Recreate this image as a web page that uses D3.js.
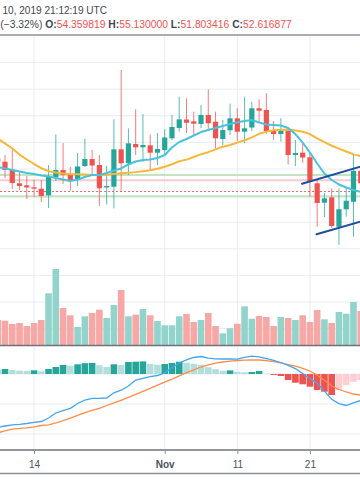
<!DOCTYPE html>
<html><head><meta charset="utf-8">
<script src="https://cdn.jsdelivr.net/npm/d3@7"></script>
<style>
html,body{margin:0;padding:0;background:#fff;}
svg{display:block;font-family:"Liberation Sans",Arial,sans-serif;}
</style>
</head><body>
<svg id="c" width="360" height="504"></svg>
<script>
// ---------- DATA ----------
const dates = ["2019-10-09","2019-10-10","2019-10-11","2019-10-12","2019-10-13","2019-10-14","2019-10-15","2019-10-16","2019-10-17","2019-10-18","2019-10-19","2019-10-20","2019-10-21","2019-10-22","2019-10-23","2019-10-24","2019-10-25","2019-10-26","2019-10-27","2019-10-28","2019-10-29","2019-10-30","2019-10-31",
"2019-11-01","2019-11-02","2019-11-03","2019-11-04","2019-11-05","2019-11-06","2019-11-07","2019-11-08","2019-11-09","2019-11-10","2019-11-11","2019-11-12","2019-11-13","2019-11-14","2019-11-15","2019-11-16","2019-11-17","2019-11-18","2019-11-19","2019-11-20","2019-11-21","2019-11-22","2019-11-23","2019-11-24","2019-11-25","2019-11-26","2019-11-27","2019-11-28"];
const opens  = [57.60,57.10,55.92,53.85,53.55,53.25,53.04,52.04,54.80,55.85,55.10,54.35,56.45,57.50,56.60,53.22,53.34,58.96,56.86,59.76,59.26,59.56,58.45,58.86,60.62,62.17,63.44,63.17,62.77,64.12,63.11,60.51,61.82,63.62,61.61,62.24,65.13,64.87,61.76,61.26,61.76,58.11,58.45,57.76,53.85,50.93,51.74,47.32,49.94,51.08,55.74];
const highs  = [58.40,58.11,58.86,55.55,54.95,54.35,54.35,56.60,61.19,59.91,56.30,58.41,60.59,58.86,58.11,56.45,63.47,70.89,62.12,64.98,64.27,61.19,61.41,62.01,64.12,66.87,66.63,64.62,65.62,67.98,64.62,63.37,65.82,65.13,66.87,66.12,66.48,67.38,63.22,63.62,62.12,60.36,59.86,58.36,54.35,52.35,53.10,53.10,53.25,58.11,56.60];
const lows   = [56.90,54.65,52.99,52.84,51.49,51.79,51.04,50.14,54.20,53.74,52.77,53.44,56.30,55.25,50.44,50.66,50.09,52.54,55.10,58.11,57.05,55.85,56.60,57.95,60.36,61.61,61.41,61.11,62.12,61.71,59.11,59.61,61.11,60.21,59.86,61.71,63.11,61.26,60.36,60.11,56.68,56.45,56.90,51.83,47.32,48.78,47.13,44.57,48.83,45.82,52.84];
const closes = [57.10,55.85,53.89,53.44,53.22,53.04,51.94,54.80,55.85,55.10,54.35,56.38,57.50,56.53,53.10,53.44,58.96,56.86,59.86,59.26,59.61,58.45,59.01,60.74,62.32,63.47,62.96,62.81,64.12,62.87,60.62,61.86,63.62,61.61,62.12,65.13,64.77,61.71,61.26,61.76,58.11,58.41,57.73,54.09,50.89,51.59,47.43,49.94,51.23,55.74,53.85];
const volumes = [25,24.3,21,22,19,22,25,51.7,76,37,29.7,18,28.7,32,35.3,27,40,55,28.7,30.3,36,29.7,24,19.7,19.7,28.7,31,23,25,32,19,11.7,16.7,21.3,38.7,26.3,29,28,19,28,27,25,29.7,23,35,25.7,22,33,31.3,43,34];
const maFast = [56.27,56.08,55.85,55.62,55.40,55.25,55.02,54.87,54.65,54.42,54.20,54.42,54.80,55.10,55.10,55.40,55.77,56.08,56.68,57.13,57.35,57.43,57.65,58.11,59.23,60.06,60.51,61.04,61.56,61.86,62.17,62.47,62.77,63.02,63.22,63.37,62.99,62.69,62.62,62.54,62.17,61.26,59.98,58.48,56.83,55.32,54.35,53.67,53.22,52.84,52.54];
const maSlow = [60.54,59.86,59.08,58.17,57.43,56.75,56.12,55.67,55.46,55.31,55.20,55.20,55.16,55.10,55.10,55.14,55.26,55.37,55.43,55.53,55.65,55.80,56.03,56.33,56.72,57.16,57.41,57.80,58.23,58.53,58.95,59.34,59.61,59.97,60.33,60.75,61.29,61.62,61.82,61.91,61.91,61.80,61.59,61.26,60.62,60.03,59.50,59.07,58.63,58.20,57.92];
const macdLine = [-1.777,-1.733,-1.693,-1.677,-1.650,-1.610,-1.583,-1.467,-1.300,-1.223,-1.143,-0.983,-0.867,-0.810,-0.810,-0.800,-0.627,-0.540,-0.400,-0.200,-0.143,-0.090,-0.050,0.040,0.207,0.367,0.473,0.550,0.583,0.527,0.503,0.500,0.500,0.493,0.553,0.593,0.570,0.513,0.453,0.383,0.290,0.180,0.017,-0.143,-0.307,-0.570,-0.843,-0.987,-1.050,-0.963,-0.883];
const signalLine = [-1.963,-1.893,-1.837,-1.810,-1.793,-1.760,-1.717,-1.693,-1.633,-1.553,-1.473,-1.377,-1.287,-1.210,-1.147,-1.050,-0.960,-0.877,-0.777,-0.677,-0.577,-0.477,-0.373,-0.273,-0.170,-0.060,0.043,0.140,0.233,0.307,0.360,0.400,0.427,0.450,0.463,0.467,0.467,0.447,0.413,0.370,0.313,0.260,0.190,0.100,-0.037,-0.210,-0.393,-0.517,-0.600,-0.667,-0.703];
const histogram = [0.15,0.167,0.133,0.11,0.105,0.123,0.09,0.167,0.233,0.30,0.277,0.323,0.36,0.37,0.29,0.233,0.323,0.30,0.40,0.41,0.42,0.333,0.31,0.333,0.367,0.41,0.377,0.34,0.307,0.227,0.16,0.11,0.12,0.073,0.057,0.067,0.10,0.01,-0.03,-0.067,-0.20,-0.29,-0.343,-0.423,-0.533,-0.59,-0.70,-0.533,-0.367,-0.257,-0.20];

const supportLevels = [55.10, 51.86];
const resistanceLevels = [54.30];
const lastPrice = 52.616877;
const trendUpper = [["2019-11-19T22:00Z", 53.79], ["2019-11-29T00:00Z", 56.70]];
const trendLower = [["2019-11-21T22:00Z", 46.18], ["2019-11-29T00:00Z", 48.43]];

const priceGrid = [72, 68, 64, 60, 56, 52, 48, 44, 40, 36, 32];
const macdGrid = [0, -1, -2];
const tickDates = ["2019-10-14", "2019-11-01", "2019-11-11", "2019-11-21"];
const tickLabels = ["14", "Nov", "11", "21"];

const headerLine1 = "10, 2019 21:12:19 UTC";
const changeText = "(\u22123.32%)";
const ohlcLabels = ["O:", "H:", "L:", "C:"];
const ohlcValues = ["54.359819", "55.130000", "51.803416", "52.616877"];

// ---------- SETUP ----------
const W = 360;
const svg = d3.select("#c");
const parseD = d3.utcParse("%Y-%m-%d");
const parseT = s => new Date(s);
const rows = dates.map((d, i) => ({
  date: parseD(d), o: opens[i], h: highs[i], l: lows[i], c: closes[i], v: volumes[i],
  f: maFast[i], s: maSlow[i], m: macdLine[i], sg: signalLine[i], hi: histogram[i],
  prevHi: i > 0 ? histogram[i - 1] : null
}));

const GREEN = "#26a69a", RED = "#ef5350";
const GRID = "#e6edf3";

const x = d3.scaleUtc().domain([parseD("2019-10-10"), parseD("2019-11-28")]).range([5, 5 + 49 * 7.26]);
const PT = 36, PB = 345.5, MT = 346, MB = 450;
const y = d3.scaleLinear().domain([29.46, 76]).range([PB, PT]);
const yVol = d3.scaleLinear().domain([0, 100]).range([345, 245]);
const yM = d3.scaleLinear().domain([-2.533, 0.933]).range([MB, MT]);

const defs = svg.append("defs");
defs.append("clipPath").attr("id", "cp").append("rect").attr("x", 0).attr("y", PT).attr("width", W).attr("height", PB - PT);
defs.append("clipPath").attr("id", "cm").append("rect").attr("x", 0).attr("y", MT).attr("width", W).attr("height", MB - MT);

// ---------- HEADER ----------
svg.append("text").attr("x", 2.5).attr("y", 14).attr("font-size", 10).attr("fill", "#434651")
  .attr("textLength", 104.5).attr("lengthAdjust", "spacingAndGlyphs").text(headerLine1);
const h2 = svg.append("text").attr("x", 0.3).attr("y", 28).attr("font-size", 10).attr("fill", "#434651")
  .attr("textLength", 291.5).attr("lengthAdjust", "spacingAndGlyphs");
h2.append("tspan").text(changeText + "\u00a0");
ohlcLabels.forEach((lab, i) => {
  h2.append("tspan").attr("font-weight", "bold").attr("fill", "#434651").text(lab);
  h2.append("tspan").attr("fill", RED).text(ohlcValues[i] + (i < ohlcLabels.length - 1 ? "\u00a0" : ""));
});

// ---------- GRID ----------
const grid = svg.append("g");
grid.selectAll("line.vg").data(tickDates).join("line")
  .attr("x1", d => x(parseD(d))).attr("x2", d => x(parseD(d)))
  .attr("y1", PT).attr("y2", MB).attr("stroke", GRID).attr("stroke-width", 1);
grid.selectAll("line.pg").data(priceGrid).join("line").attr("class", "pg")
  .attr("x1", 0).attr("x2", W).attr("y1", d => y(d)).attr("y2", d => y(d))
  .attr("stroke", GRID).attr("stroke-width", 1);
grid.selectAll("line.mg").data(macdGrid).join("line").attr("class", "mg")
  .attr("x1", 0).attr("x2", W).attr("y1", d => yM(d)).attr("y2", d => yM(d))
  .attr("stroke", GRID).attr("stroke-width", 1);

// ---------- PRICE PANE ----------
const pp = svg.append("g").attr("clip-path", "url(#cp)");

pp.selectAll("line.sup").data(supportLevels).join("line")
  .attr("x1", 0).attr("x2", W).attr("y1", d => y(d)).attr("y2", d => y(d))
  .attr("stroke", "#c5e3c2").attr("stroke-width", 2);
pp.selectAll("line.res").data(resistanceLevels).join("line").attr("class", "res")
  .attr("x1", 0).attr("x2", W).attr("y1", d => y(d)).attr("y2", d => y(d))
  .attr("stroke", "#f8cccc").attr("stroke-width", 2);
pp.append("line").attr("x1", 0).attr("x2", W).attr("y1", y(lastPrice)).attr("y2", y(lastPrice))
  .attr("stroke", "#f06b69").attr("stroke-width", 1).attr("stroke-dasharray", "2,2");

pp.selectAll("rect.vol").data(rows).join("rect").attr("class", "vol")
  .attr("x", d => x(d.date) - 3.3).attr("width", 6.6)
  .attr("y", d => yVol(d.v)).attr("height", d => yVol(0) - yVol(d.v))
  .attr("fill", d => d.c >= d.o ? "#92d3cb" : "#f7a8a6");

const cg = pp.append("g");
cg.selectAll("line.wick").data(rows).join("line").attr("class", "wick")
  .attr("x1", d => x(d.date)).attr("x2", d => x(d.date))
  .attr("y1", d => y(d.h)).attr("y2", d => y(d.l))
  .attr("stroke", d => d.c >= d.o ? GREEN : RED).attr("stroke-opacity", 0.75).attr("stroke-width", 1);
cg.selectAll("rect.body").data(rows).join("rect").attr("class", "body")
  .attr("x", d => x(d.date) - 2.6).attr("width", 5.2)
  .attr("y", d => y(Math.max(d.o, d.c)))
  .attr("height", d => Math.max(1, Math.abs(y(d.o) - y(d.c))))
  .attr("fill", d => d.c >= d.o ? GREEN : RED);

const lineP = key => d3.line().x(d => x(d.date)).y(d => y(d[key]));
pp.append("path").datum(rows).attr("d", lineP("s")).attr("fill", "none")
  .attr("stroke", "#f9b73a").attr("stroke-width", 2).attr("stroke-linejoin", "round");
pp.append("path").datum(rows).attr("d", lineP("f")).attr("fill", "none")
  .attr("stroke", "#48c3dc").attr("stroke-width", 2).attr("stroke-linejoin", "round");

const tl = d3.line().x(d => x(parseT(d[0]))).y(d => y(d[1]));
[trendUpper, trendLower].forEach(t => {
  pp.append("path").datum(t).attr("d", tl).attr("fill", "none")
    .attr("stroke", "#1d4f9b").attr("stroke-width", 2).attr("stroke-linecap", "round");
});

// ---------- MACD PANE ----------
const mp = svg.append("g").attr("clip-path", "url(#cm)");
mp.selectAll("rect.hist").data(rows).join("rect").attr("class", "hist")
  .attr("x", d => x(d.date) - 3.3).attr("width", 6.6)
  .attr("y", d => yM(Math.max(0, d.hi)))
  .attr("height", d => Math.abs(yM(d.hi) - yM(0)))
  .attr("fill", d => {
    if (d.hi >= 0) return (d.prevHi !== null && d.hi > d.prevHi) ? "#26a69a" : "#b2dfdb";
    return (d.prevHi !== null && d.hi < d.prevHi) ? "#ef5350" : "#ffcdd2";
  });
const lineM = key => d3.line().x(d => x(d.date)).y(d => yM(d[key]));
mp.append("path").datum(rows).attr("d", lineM("sg")).attr("fill", "none")
  .attr("stroke", "#ff8d45").attr("stroke-width", 1.3);
mp.append("path").datum(rows).attr("d", lineM("m")).attr("fill", "none")
  .attr("stroke", "#42a5f5").attr("stroke-width", 1.3);

// ---------- SEPARATORS ----------
const sep = [[35, "#8d9098"], [345.5, "#6f727a"], [450, "#6f727a"], [473.5, "#8d9098"]];
svg.selectAll("line.sep").data(sep).join("line").attr("class", "sep")
  .attr("x1", 0).attr("x2", W).attr("y1", d => d[0]).attr("y2", d => d[0])
  .attr("stroke", d => d[1]).attr("stroke-width", 1.5);

// ---------- TIME AXIS ----------
const ax = svg.append("g").attr("transform", "translate(0,450)")
  .call(d3.axisBottom(x).tickValues(tickDates.map(parseD)).tickSize(4).tickPadding(6.5)
    .tickFormat((d, i) => tickLabels[i]));
ax.select(".domain").remove();
ax.selectAll(".tick line").attr("stroke", "#8d9098");
ax.selectAll(".tick text").attr("font-size", 10).attr("fill", "#4c525e")
  .attr("font-family", "'Liberation Sans', Arial, sans-serif")
  .attr("font-weight", (d, i) => tickLabels[i] === "Nov" ? "bold" : "normal");
</script>
</body></html>
